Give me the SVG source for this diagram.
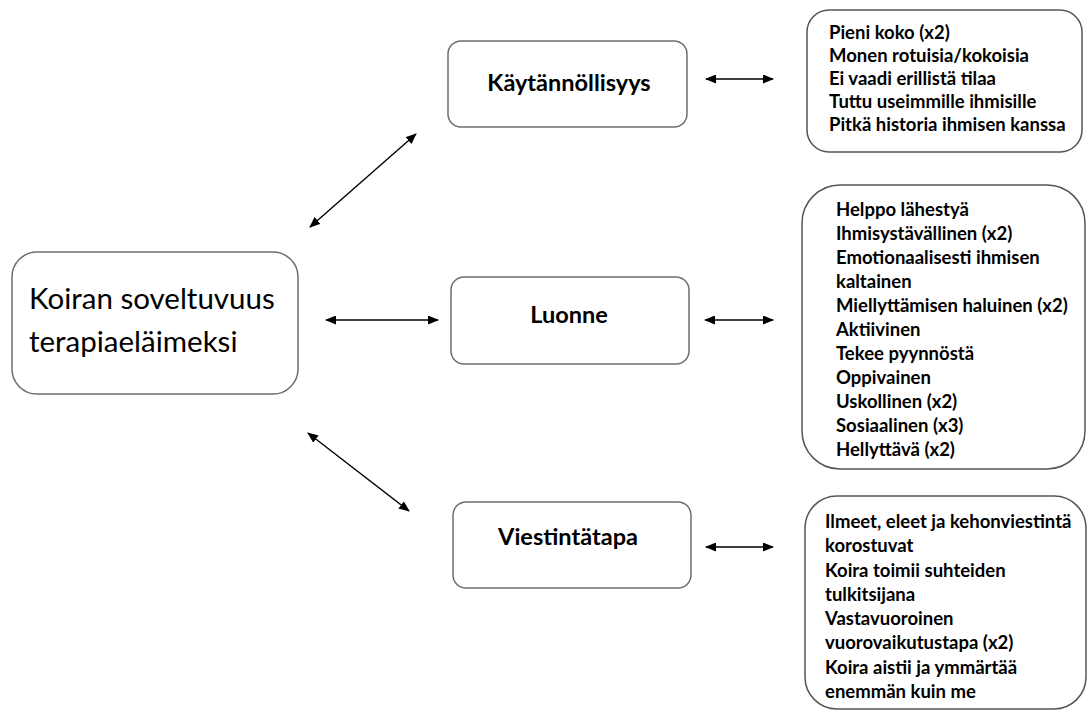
<svg xmlns="http://www.w3.org/2000/svg" width="1087" height="711" viewBox="0 0 1087 711">
<style>
.box{fill:#fff;stroke:#6e6e6e;stroke-width:1.5}
.lst{fill:#fff;stroke:#555;stroke-width:1.5}
.t{font-family:Lato,"Liberation Sans",sans-serif;fill:#000}
.main{font-size:29.5px}
.hd{font-size:23.5px;font-weight:bold;text-anchor:middle}
.it{font-size:18.5px;font-weight:bold}
.con line{stroke:#000;stroke-width:1.4;marker-start:url(#ah);marker-end:url(#ah)}
</style>
<defs>
<marker id="ah" markerUnits="userSpaceOnUse" markerWidth="11" markerHeight="9" refX="10" refY="4.5" orient="auto-start-reverse">
<path d="M0,0 L11,4.5 L0,9 z" fill="#000"/>
</marker>
</defs>
<rect width="1087" height="711" fill="#fff"/>
<g id="main">
<rect class="box" x="12" y="252" width="286" height="142" rx="25"/>
<text class="t main" x="29" y="309">Koiran soveltuvuus</text>
<text class="t main" x="29" y="352">terapiaeläimeksi</text>
</g>
<g id="kaytannollisyys">
<rect class="box" x="448" y="41" width="239" height="86" rx="13"/>
<text class="t hd" x="569" y="91">Käytännöllisyys</text>
</g>
<g id="luonne">
<rect class="box" x="451" y="277" width="238" height="87" rx="13"/>
<text class="t hd" x="569" y="323">Luonne</text>
</g>
<g id="viestintatapa">
<rect class="box" x="453" y="502" width="238" height="86" rx="13"/>
<text class="t hd" x="568" y="545">Viestintätapa</text>
</g>
<g id="lista1">
<rect class="lst" x="807" y="10" width="275" height="142" rx="22"/>
<text class="t it" x="829" y="39">Pieni koko (x2)</text>
<text class="t it" x="829" y="62">Monen rotuisia/kokoisia</text>
<text class="t it" x="829" y="85">Ei vaadi erillistä tilaa</text>
<text class="t it" x="829" y="108">Tuttu useimmille ihmisille</text>
<text class="t it" x="829" y="131">Pitkä historia ihmisen kanssa</text>
</g>
<g id="lista2">
<rect class="lst" x="802" y="185" width="283" height="284" rx="38"/>
<text class="t it" x="836" y="216">Helppo lähestyä</text>
<text class="t it" x="836" y="240">Ihmisystävällinen (x2)</text>
<text class="t it" x="836" y="264">Emotionaalisesti ihmisen</text>
<text class="t it" x="836" y="288">kaltainen</text>
<text class="t it" x="836" y="312">Miellyttämisen haluinen (x2)</text>
<text class="t it" x="836" y="336">Aktiivinen</text>
<text class="t it" x="836" y="360">Tekee pyynnöstä</text>
<text class="t it" x="836" y="384">Oppivainen</text>
<text class="t it" x="836" y="408">Uskollinen (x2)</text>
<text class="t it" x="836" y="432">Sosiaalinen (x3)</text>
<text class="t it" x="836" y="456">Hellyttävä (x2)</text>
</g>
<g id="lista3">
<rect class="lst" x="805" y="496" width="281" height="213" rx="32"/>
<text class="t it" x="825" y="528">Ilmeet, eleet ja kehonviestintä</text>
<text class="t it" x="825" y="552">korostuvat</text>
<text class="t it" x="825" y="577">Koira toimii suhteiden</text>
<text class="t it" x="825" y="601">tulkitsijana</text>
<text class="t it" x="825" y="625">Vastavuoroinen</text>
<text class="t it" x="825" y="649">vuorovaikutustapa (x2)</text>
<text class="t it" x="825" y="674">Koira aistii ja ymmärtää</text>
<text class="t it" x="825" y="698">enemmän kuin me</text>
</g>
<g id="connectors" class="con">
<line x1="310" y1="227" x2="416" y2="134"/>
<line x1="326" y1="320" x2="438" y2="320"/>
<line x1="308" y1="433" x2="409" y2="511"/>
<line x1="706" y1="79" x2="773" y2="79"/>
<line x1="705" y1="320" x2="773" y2="320"/>
<line x1="706" y1="547" x2="773" y2="547"/>
</g>
</svg>
